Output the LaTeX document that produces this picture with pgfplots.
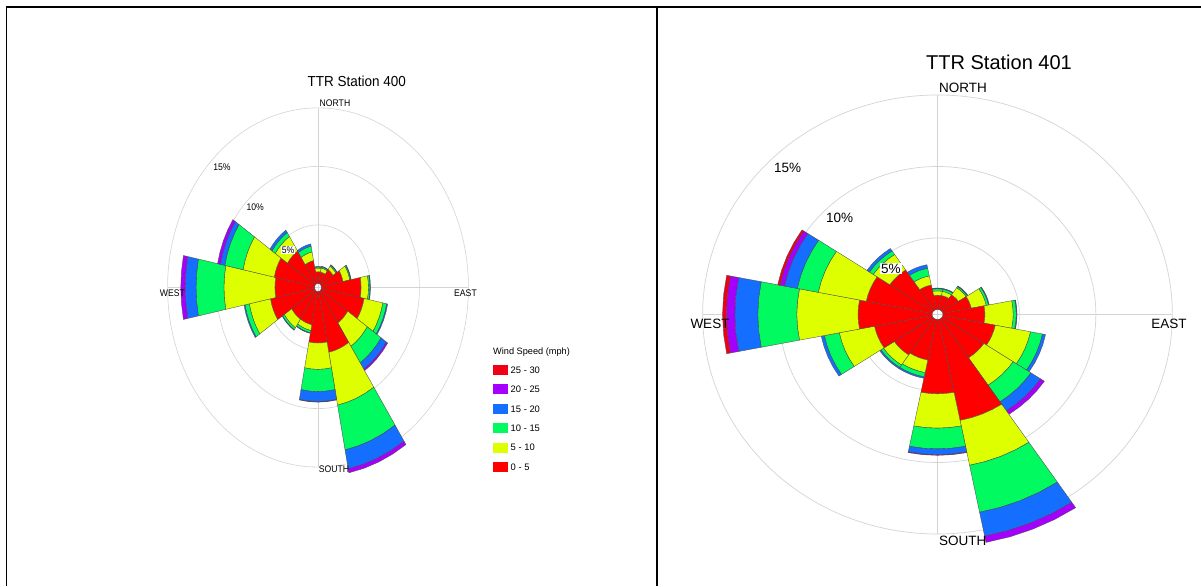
\documentclass[border=0pt]{standalone}
\usepackage{pgfplots}
\pgfplotsset{compat=1.18}
\usepackage{pgfplotstable}
\usepackage{fontspec}
\setmainfont{Liberation Sans}

\definecolor{wsA}{RGB}{255,0,0}
\definecolor{wsB}{RGB}{221,255,0}
\definecolor{wsC}{RGB}{0,250,95}
\definecolor{wsD}{RGB}{20,110,255}
\definecolor{wsE}{RGB}{165,0,255}
\definecolor{wsF}{RGB}{240,0,20}
\definecolor{ringgray}{RGB}{212,212,212}

% frequency (%) per wind-speed band: s1=0-5, s2=5-10, s3=10-15, s4=15-20, s5=20-25, s6=25-30
\pgfplotstableread{
dir    s1    s2    s3    s4    s5    s6
0      1.00  0.30  0.10  0.05  0     0
22.5   1.00  0.35  0.10  0.05  0     0
45     1.50  0.35  0.10  0.05  0     0
67.5   2.25  0.70  0.10  0.05  0     0
90     4.05  0.75  0.15  0.05  0     0
112.5  4.45  1.95  0.40  0.10  0     0
135    3.30  2.40  1.70  0.65  0.15  0
157.5  5.30  4.60  3.90  1.65  0.35  0
180    4.40  2.25  1.90  0.85  0.05  0
202.5  2.90  0.50  0.20  0.05  0     0
225    2.90  0.90  0.20  0.05  0     0
247.5  4.60  2.20  0.45  0.10  0     0
270    4.05  5.20  2.85  1.10  0.45  0
292.5  4.20  3.25  1.90  0.45  0.30  0
315    3.40  1.50  0.40  0.25  0     0
337.5  2.00  0.75  0.50  0.20  0     0
}\stationA

\pgfplotstableread{
dir    s1    s2    s3    s4    s5    s6
0      1.00  0.30  0.15  0.05  0     0
22.5   1.00  0.30  0.15  0.05  0     0
45     1.30  0.60  0.10  0.05  0     0
67.5   1.90  1.00  0.15  0.05  0     0
90     2.75  1.85  0.20  0.05  0     0
112.5  3.50  2.35  0.80  0.20  0     0
135    3.30  2.30  1.40  0.75  0.30  0
157.5  7.20  3.20  3.35  1.70  0.45  0
180    5.20  2.40  1.45  0.40  0.05  0
202.5  2.90  0.90  0.30  0.10  0     0
225    3.05  0.85  0.20  0.10  0     0
247.5  3.85  2.35  1.00  0.20  0     0
270    4.85  4.00  2.55  1.50  0.55  0.25
292.5  4.40  3.20  1.40  0.85  0.30  0.15
315    3.40  1.30  0.30  0.20  0     0
337.5  1.75  0.65  0.55  0.25  0     0
}\stationB

\newcommand\rz{0.35}

% one annular sector: centre direction (deg, clockwise from north), inner, outer, colour
\newcommand\band[4]{%
  \pgfmathsetmacro\bRi{#2+\rz}%
  \pgfmathsetmacro\bRo{#3+\rz}%
  \pgfmathsetmacro\bxA{\bRo*sin(#1-11.25)}\pgfmathsetmacro\byA{\bRo*cos(#1-11.25)}%
  \pgfmathsetmacro\bxB{\bRo*sin(#1-5.625)}\pgfmathsetmacro\byB{\bRo*cos(#1-5.625)}%
  \pgfmathsetmacro\bxC{\bRo*sin(#1)}\pgfmathsetmacro\byC{\bRo*cos(#1)}%
  \pgfmathsetmacro\bxD{\bRo*sin(#1+5.625)}\pgfmathsetmacro\byD{\bRo*cos(#1+5.625)}%
  \pgfmathsetmacro\bxE{\bRo*sin(#1+11.25)}\pgfmathsetmacro\byE{\bRo*cos(#1+11.25)}%
  \pgfmathsetmacro\bxF{\bRi*sin(#1+11.25)}\pgfmathsetmacro\byF{\bRi*cos(#1+11.25)}%
  \pgfmathsetmacro\bxG{\bRi*sin(#1+5.625)}\pgfmathsetmacro\byG{\bRi*cos(#1+5.625)}%
  \pgfmathsetmacro\bxH{\bRi*sin(#1)}\pgfmathsetmacro\byH{\bRi*cos(#1)}%
  \pgfmathsetmacro\bxI{\bRi*sin(#1-5.625)}\pgfmathsetmacro\byI{\bRi*cos(#1-5.625)}%
  \pgfmathsetmacro\bxJ{\bRi*sin(#1-11.25)}\pgfmathsetmacro\byJ{\bRi*cos(#1-11.25)}%
  \edef\bandcmd{\noexpand\addplot[fill=#4, draw=black!70, line width=0.35pt, line join=round]
    coordinates {(\bxA,\byA) (\bxB,\byB) (\bxC,\byC) (\bxD,\byD) (\bxE,\byE)
                 (\bxF,\byF) (\bxG,\byG) (\bxH,\byH) (\bxI,\byI) (\bxJ,\byJ) (\bxA,\byA)};}%
  \bandcmd
}

\newcommand\windrow[2]{%
  \pgfplotstablegetelem{#2}{dir}\of#1\edef\wdir{\pgfplotsretval}%
  \pgfplotstablegetelem{#2}{s1}\of#1\pgfmathsetmacro\cA{\pgfplotsretval}%
  \pgfplotstablegetelem{#2}{s2}\of#1\pgfmathsetmacro\cB{\cA+\pgfplotsretval}%
  \pgfplotstablegetelem{#2}{s3}\of#1\pgfmathsetmacro\cC{\cB+\pgfplotsretval}%
  \pgfplotstablegetelem{#2}{s4}\of#1\pgfmathsetmacro\cD{\cC+\pgfplotsretval}%
  \pgfplotstablegetelem{#2}{s5}\of#1\pgfmathsetmacro\cE{\cD+\pgfplotsretval}%
  \pgfplotstablegetelem{#2}{s6}\of#1\pgfmathsetmacro\cF{\cE+\pgfplotsretval}%
  \band{\wdir}{0}{\cA}{wsA}%
  \ifdim\cB pt>\cA pt\relax\band{\wdir}{\cA}{\cB}{wsB}\fi
  \ifdim\cC pt>\cB pt\relax\band{\wdir}{\cB}{\cC}{wsC}\fi
  \ifdim\cD pt>\cC pt\relax\band{\wdir}{\cC}{\cD}{wsD}\fi
  \ifdim\cE pt>\cD pt\relax\band{\wdir}{\cD}{\cE}{wsE}\fi
  \ifdim\cF pt>\cE pt\relax\band{\wdir}{\cE}{\cF}{wsF}\fi
}

\begin{document}
\begin{tikzpicture}
\useasboundingbox (0,0) rectangle (1201pt,586pt);
\fill[white] (0,0) rectangle (1201pt,586pt);
% table frame
\draw[line width=1.7pt] (5.8pt,579pt) -- (1201pt,579pt);
\draw[line width=1.6pt] (6.5pt,579.8pt) -- (6.5pt,0pt);
\draw[line width=2pt] (656.7pt,579.8pt) -- (656.7pt,0pt);

% ---------------- Station 400 ----------------
\begin{axis}[at={(318pt,298.5pt)}, anchor=center,
  x=9.8pt, y=11.7pt, xmin=-16, xmax=16, ymin=-16, ymax=16,
  hide axis, clip=false]
  \draw[ringgray, line width=0.6pt] (axis cs:-15.35,0) -- (axis cs:15.35,0);
  \draw[ringgray, line width=0.6pt] (axis cs:0,-15.35) -- (axis cs:0,15.35);
  \draw[ringgray, line width=0.6pt] (axis cs:0,0) ellipse [x radius=52.43pt, y radius=62.6pt];
  \draw[ringgray, line width=0.6pt] (axis cs:0,0) ellipse [x radius=101.43pt, y radius=121.1pt];
  \draw[ringgray, line width=0.6pt] (axis cs:0,0) ellipse [x radius=150.43pt, y radius=179.6pt];
  \pgfplotsinvokeforeach{0,...,15}{\windrow{\stationA}{#1}}
  \begin{scope}[every node/.style={font=\fontsize{9.6}{11}\selectfont, xscale=0.9, inner sep=0.8pt}]
  \node[fill=white] at (axis cs:-3.05,3.22) {5\%};
  \node at (axis cs:-6.4,6.85) {10\%};
  \node at (axis cs:-9.8,10.3) {15\%};
  \node at (axis cs:1.73,15.77) {NORTH};
  \node at (axis cs:1.63,-15.55) {SOUTH};
  \node at (axis cs:15.05,-0.47) {EAST};
  \node at (axis cs:-14.85,-0.47) {WEST};
  \end{scope}
\end{axis}
\node[font=\fontsize{14.5}{17}\selectfont, xscale=0.93] at (356.7pt,504.3pt) {TTR Station 400};
% legend
\node[anchor=west, font=\fontsize{9.2}{11}\selectfont, inner sep=0pt] at (493pt,234pt) {Wind Speed (mph)};
\foreach \c/\t [count=\i from 0] in {wsF/25 - 30, wsE/20 - 25, wsD/15 - 20, wsC/10 - 15, wsB/5 - 10, wsA/0 - 5}{
  \pgfmathsetmacro\ly{216-19.4*\i}
  \pgfmathsetmacro\lyA{\ly-5}
  \pgfmathsetmacro\lyB{\ly+5}
  \fill[\c] (493pt,\lyA pt) rectangle (508pt,\lyB pt);
  \node[anchor=west, font=\fontsize{9.4}{11}\selectfont, inner sep=0pt] at (510.5pt,\ly pt) {\t};
}

% ---------------- Station 401 ----------------
\begin{axis}[at={(937.5pt,271.5pt)}, anchor=center,
  x=15.3pt, y=14.3pt, xmin=-16, xmax=16, ymin=-16, ymax=16,
  hide axis, clip=false]
  \draw[ringgray, line width=0.7pt] (axis cs:-15.35,0) -- (axis cs:15.35,0);
  \draw[ringgray, line width=0.7pt] (axis cs:0,-15.35) -- (axis cs:0,15.35);
  \draw[ringgray, line width=0.7pt] (axis cs:0,0) ellipse [x radius=81.86pt, y radius=76.5pt];
  \draw[ringgray, line width=0.7pt] (axis cs:0,0) ellipse [x radius=158.36pt, y radius=148.0pt];
  \draw[ringgray, line width=0.7pt] (axis cs:0,0) ellipse [x radius=234.86pt, y radius=219.5pt];
  \pgfplotsinvokeforeach{0,...,15}{\windrow{\stationB}{#1}}
  \begin{scope}[every node/.style={font=\fontsize{13.5}{16}\selectfont, inner sep=1pt}]
  \node[fill=white] at (axis cs:-3.05,3.22) {5\%};
  \node at (axis cs:-6.4,6.75) {10\%};
  \node at (axis cs:-9.8,10.25) {15\%};
  \node at (axis cs:1.67,15.84) {NORTH};
  \node at (axis cs:1.65,-15.8) {SOUTH};
  \node at (axis cs:15.13,-0.66) {EAST};
  \node at (axis cs:-14.87,-0.66) {WEST};
  \end{scope}
\end{axis}
\node[font=\fontsize{20}{24}\selectfont] at (999pt,523.5pt) {TTR Station 401};
\end{tikzpicture}
\end{document}
